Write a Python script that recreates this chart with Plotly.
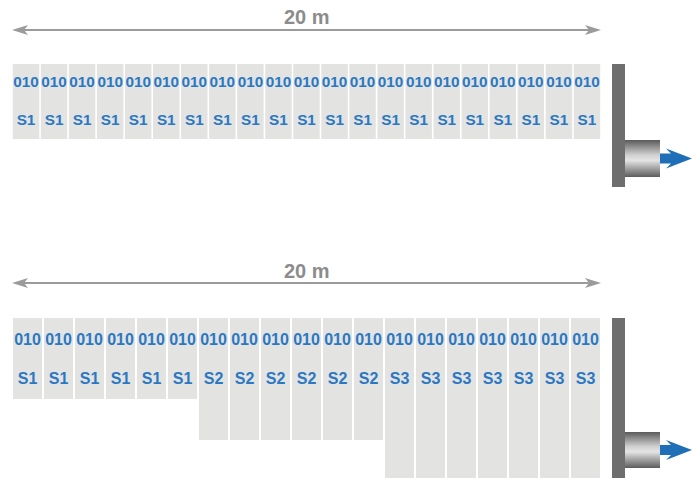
import plotly.graph_objects as go

# ---------------- data ----------------
total_length_m = 20
top_codes = ["010"] * 21
top_segments = ["S1"] * 21
bottom_codes = ["010"] * 19
bottom_segments = ["S1", "S1", "S1", "S1", "S1", "S1",
                   "S2", "S2", "S2", "S2", "S2", "S2",
                   "S3", "S3", "S3", "S3", "S3", "S3", "S3"]
segment_depth = {"S1": 81, "S2": 122, "S3": 160}
top_depth = 75
length_label = "20 m"

# ---------------- layout helpers ----------------
W, H = 700, 478
X0_PX = 12            # pixel of 0 m
PX_PER_M = 589 / total_length_m


def mx(px):
    return (px - X0_PX) / PX_PER_M


BLUE_TXT = "#2b78c2"
CELL = "#e3e3e2"
GREY_LINE = "#9b9b9b"
WALL = "#6e6e6e"
ARROW_BLUE = "#1f6fb8"
CELL_FONT = "Liberation Sans, Arial, Helvetica, sans-serif"

fig = go.Figure()

panels = [
    dict(codes=top_codes, segs=top_segments, top=64, depths=[top_depth] * len(top_codes),
         code_y=83.5, seg_y=121.5, arrow_y=30, label_y=16.5, gap_px=1.6, fsize=15.3,
         wall=(64, 187), cyl=(140, 177)),
    dict(codes=bottom_codes, segs=bottom_segments, top=318,
         depths=[segment_depth[s] for s in bottom_segments],
         code_y=341, seg_y=380, arrow_y=283, label_y=271, gap_px=2.0, fsize=16,
         wall=(318, 480), cyl=(432, 468)),
]

shapes = []
annotations = []
for p in panels:
    n = len(p["codes"])
    w = total_length_m / n
    xs = [(i + 0.5) * w for i in range(n)]
    gap = p["gap_px"] / PX_PER_M
    fig.add_trace(go.Bar(
        x=xs, y=p["depths"], base=[p["top"]] * n, width=w - gap,
        marker=dict(color=CELL, line=dict(width=0)),
        hoverinfo="skip", showlegend=False))
    fig.add_trace(go.Scatter(
        x=xs, y=[p["code_y"]] * n, mode="text", text=p["codes"],
        textfont=dict(family=CELL_FONT, size=p["fsize"], color=BLUE_TXT, weight="bold"),
        hoverinfo="skip", showlegend=False))
    fig.add_trace(go.Scatter(
        x=xs, y=[p["seg_y"]] * n, mode="text", text=p["segs"],
        textfont=dict(family=CELL_FONT, size=p["fsize"], color=BLUE_TXT, weight="bold"),
        hoverinfo="skip", showlegend=False))

    # dimension arrow
    ay = p["arrow_y"]
    fig.add_trace(go.Scatter(
        x=[mx(X0_PX + 12), mx(X0_PX + 589 - 12)], y=[ay, ay], mode="lines",
        line=dict(color=GREY_LINE, width=2), hoverinfo="skip", showlegend=False))
    for tip, d in ((X0_PX, 1), (X0_PX + 589, -1)):
        path = (f"M{mx(tip)},{ay} L{mx(tip + d * 16)},{ay - 5} "
                f"L{mx(tip + d * 12)},{ay} L{mx(tip + d * 16)},{ay + 5} Z")
        shapes.append(dict(type="path", path=path, xref="x", yref="y",
                           fillcolor=GREY_LINE, line=dict(width=0)))
    annotations.append(dict(x=total_length_m / 2, y=p["label_y"], xref="x", yref="y",
                            text=length_label, showarrow=False,
                            font=dict(family="Liberation Sans, Arial, sans-serif",
                                      size=20, color="#8c8c8c", weight="bold")))

    # wall
    wy0, wy1 = p["wall"]
    shapes.append(dict(type="rect", xref="x", yref="y", x0=mx(612), x1=mx(625),
                       y0=wy0, y1=wy1, fillcolor=WALL, line=dict(width=0)))
    # cylinder with gradient
    cy0, cy1 = p["cyl"]
    fig.add_trace(go.Scatter(
        x=[mx(625), mx(660), mx(660), mx(625), mx(625)],
        y=[cy0, cy0, cy1, cy1, cy0], mode="lines", fill="toself",
        line=dict(width=0, color="rgba(0,0,0,0)"),
        fillgradient=dict(type="vertical",
                          colorscale=[[0, "#5c5c5c"], [0.45, "#e4e4e4"],
                                      [0.6, "#cfcfcf"], [1, "#5a5a5a"]]),
        hoverinfo="skip", showlegend=False))
    # blue output arrow
    c = (cy0 + cy1) / 2
    path = (f"M{mx(660)},{c - 5} L{mx(671)},{c - 5} L{mx(666)},{c - 10} "
            f"L{mx(692)},{c} L{mx(666)},{c + 10} L{mx(671)},{c + 5} "
            f"L{mx(660)},{c + 5} Z")
    shapes.append(dict(type="path", path=path, xref="x", yref="y",
                       fillcolor=ARROW_BLUE, line=dict(width=0)))

fig.update_layout(
    width=W, height=H,
    margin=dict(l=0, r=0, t=0, b=0),
    paper_bgcolor="white", plot_bgcolor="white",
    barmode="overlay",
    xaxis=dict(range=[mx(0), mx(W)], visible=False, fixedrange=True),
    yaxis=dict(range=[H, 0], visible=False, fixedrange=True),
    shapes=shapes, annotations=annotations,
    showlegend=False,
)

fig.write_html(
    "out.html",
    config={"displayModeBar": False},
    post_script="document.body.style.margin='0';document.body.style.overflow='hidden';",
)
